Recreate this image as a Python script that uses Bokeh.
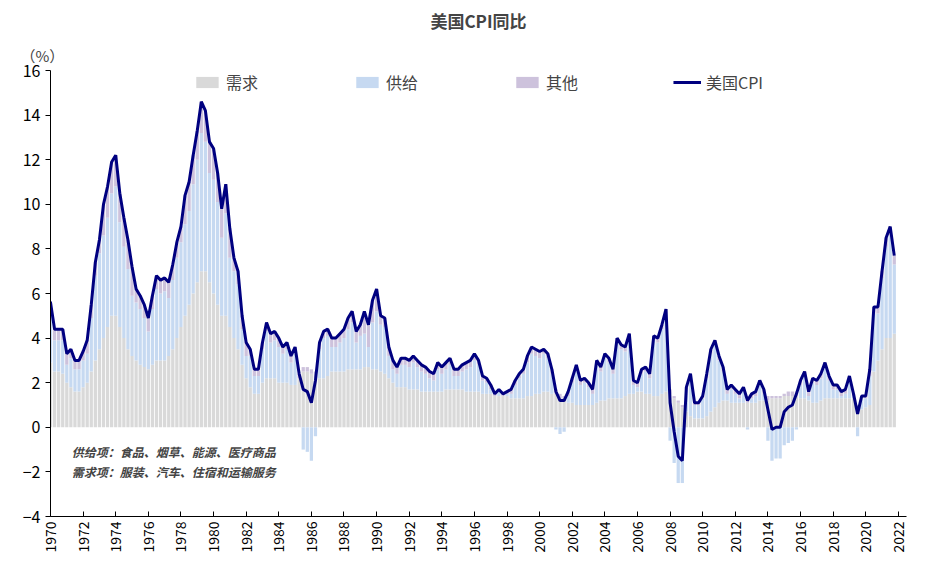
import math
from bokeh.plotting import figure
from bokeh.models import Range1d, FixedTicker, Label, Legend, LegendItem, Title
from bokeh.embed import file_html
from bokeh.resources import INLINE

start_year = 1970
cpi = [6.2,6.0,5.7,5.6, 4.4,4.4,4.4,3.3, 3.5,3.0,3.0,3.4, 3.9,5.5,7.4,8.4, 10.0,10.8,11.9,12.2,
       10.5,9.4,8.4,7.2, 6.2,5.9,5.5,4.9, 5.9,6.8,6.6,6.7, 6.5,7.3,8.3,9.0, 10.4,11.0,12.2,13.3,
       14.6,14.2,12.8,12.5, 11.4,9.8,10.9,8.9, 7.6,7.0,5.0,3.8, 3.5,2.6,2.6,3.8, 4.7,4.2,4.3,4.0,
       3.6,3.8,3.2,3.6, 2.4,1.7,1.6,1.1, 2.1,3.8,4.3,4.4, 4.0,4.0,4.2,4.4, 4.9,5.2,4.3,4.6,
       5.2,4.6,5.7,6.2, 5.0,4.9,3.6,3.0, 2.7,3.1,3.1,3.0, 3.2,3.0,2.8,2.7, 2.5,2.4,2.9,2.7,
       2.9,3.1,2.6,2.6, 2.8,2.9,3.0,3.3, 3.0,2.3,2.2,1.9, 1.5,1.7,1.5,1.6, 1.7,2.1,2.4,2.6,
       3.2,3.6,3.5,3.4, 3.5,3.3,2.6,1.6, 1.2,1.2,1.6,2.2, 2.8,2.1,2.2,2.0, 1.7,3.0,2.7,3.3,
       3.1,2.6,4.0,3.7, 3.6,4.2,2.1,2.0, 2.6,2.7,2.4,4.1, 4.0,4.6,5.3,1.1, -0.2,-1.3,-1.5,1.8,
       2.4,1.1,1.1,1.4, 2.4,3.5,3.9,3.2, 2.7,1.7,1.9,1.7, 1.5,1.8,1.2,1.5, 1.6,2.1,1.7,0.8,
       -0.1,0.0,0.0,0.7, 0.9,1.0,1.5,2.1, 2.5,1.6,2.2,2.1, 2.4,2.9,2.3,1.9, 1.9,1.6,1.7,2.3,
       1.5,0.6,1.4,1.4, 2.6,5.4,5.4,7.0, 8.5,9.0,7.7]
demand = [3.0,3.0,2.9,2.9, 2.5,2.5,2.4,2.0, 1.8,1.6,1.6,1.8, 2.0,2.5,3.0,3.5, 4.0,4.5,5.0,5.0,
          4.5,4.0,3.5,3.2, 3.0,2.8,2.7,2.6, 2.8,3.0,3.0,3.0, 3.2,3.5,4.0,4.5, 5.0,5.5,6.0,6.5,
          7.0,7.0,6.5,6.0, 5.5,5.0,5.0,4.5, 4.0,3.5,2.8,2.2, 1.8,1.5,1.5,2.0, 2.2,2.2,2.2,2.0,
          2.0,2.0,1.9,1.9, 2.2,2.5,2.5,2.4, 2.2,2.2,2.2,2.3, 2.5,2.5,2.5,2.5, 2.6,2.6,2.6,2.6,
          2.7,2.7,2.6,2.6, 2.5,2.4,2.2,2.0, 1.8,1.8,1.8,1.7, 1.7,1.7,1.6,1.6, 1.6,1.6,1.6,1.6,
          1.7,1.7,1.7,1.7, 1.7,1.6,1.6,1.6, 1.6,1.5,1.5,1.5, 1.4,1.4,1.4,1.4, 1.3,1.3,1.3,1.3,
          1.4,1.4,1.5,1.5, 1.6,1.6,1.5,1.5, 1.3,1.2,1.1,1.1, 1.0,1.0,1.0,1.0, 1.0,1.1,1.2,1.2,
          1.3,1.3,1.3,1.3, 1.4,1.5,1.5,1.6, 1.6,1.5,1.5,1.4, 1.4,1.5,1.6,1.5, 1.3,1.1,0.9,0.7,
          0.5,0.4,0.4,0.4, 0.5,0.7,0.9,1.1, 1.2,1.2,1.1,1.1, 1.1,1.1,1.1,1.1, 1.1,1.2,1.2,1.2,
          1.3,1.3,1.3,1.4, 1.4,1.4,1.4,1.3, 1.3,1.2,1.1,1.1, 1.2,1.3,1.3,1.3, 1.3,1.3,1.3,1.3,
          1.3,0.9,0.8,0.9, 1.0,2.5,3.0,3.5, 4.0,4.0,4.2]
supply = [2.7,2.5,2.3,2.2, 1.4,1.4,1.5,0.8, 1.3,1.0,1.0,1.2, 1.3,2.4,3.8,4.3, 4.6,4.9,5.5,5.8,
          4.7,4.1,3.6,2.7, 2.6,2.5,2.2,1.7, 2.5,3.2,3.0,3.1, 2.6,3.1,3.6,3.8, 4.1,4.2,4.9,5.5,
          6.2,5.8,4.9,5.1, 4.6,3.5,4.6,3.1, 3.0,2.9,1.6,1.0, 1.4,0.8,0.8,1.5, 2.1,1.6,1.7,1.6,
          1.3,1.5,1.0,1.4, 0.0,-1.0,-1.1,-1.5, -0.4,1.3,1.8,1.8, 1.1,1.1,1.3,1.5, 1.8,2.1,1.2,1.5,
          1.5,0.9,2.1,2.6, 2.1,2.1,1.0,0.6, 0.6,1.0,1.0,1.0, 1.2,1.0,0.9,0.8, 0.6,0.5,1.0,0.8,
          0.9,1.1,0.6,0.6, 0.8,1.0,1.1,1.4, 1.2,0.6,0.5,0.2, 0.0,0.2,0.0,0.1, 0.2,0.6,0.9,1.1,
          1.5,1.9,1.7,1.6, 1.7,1.5,0.9,-0.1, -0.3,-0.2,0.3,0.9, 1.6,0.9,1.0,0.8, 0.5,1.7,1.3,1.9,
          1.6,1.1,2.5,2.2, 2.0,2.5,0.4,0.2, 0.8,1.0,0.7,2.5, 2.4,2.9,3.5,-0.6, -1.6,-2.5,-2.5,1.0,
          1.8,0.6,0.6,0.9, 1.7,2.6,2.8,1.9, 1.3,0.3,0.6,0.4, 0.2,0.5,-0.1,0.2, 0.3,0.7,0.3,-0.6,
          -1.5,-1.4,-1.4,-0.8, -0.7,-0.6,-0.1,0.6, 1.0,0.2,0.9,0.8, 1.0,1.4,0.8,0.4, 0.4,0.1,0.2,0.8,
          0.1,-0.4,0.5,0.4, 1.3,2.6,2.1,3.2, 4.1,4.6,3.1]
other_by_year = [0.5,0.5,0.4,0.6,1.4,1.3,0.6,0.6,0.7,1.3,1.4,1.3,0.6,0.3,0.4,0.3,0.2,0.3,0.4,0.5,
                 1.0,0.4,0.3,0.3,0.3,0.3,0.3,0.2,0.1,0.2,0.3,0.2,0.2,0.2,0.2,0.2,0.2,0.2,0.2,0.1,
                 0.1,0.2,0.2,0.2,0.2,0.1,0.2,0.2,0.2,0.2,0.1,0.3,0.4]
tick_years = list(range(1970, 2023, 2))
y_ticks = list(range(-4, 17, 2))

n = len(cpi)
other = [other_by_year[i // 4] for i in range(n)]
x = [start_year + i * 0.25 - 0.75 for i in range(n)]

segs = {k: ([], []) for k in ("d", "s", "o")}
for i in range(n):
    pos, neg = 0.0, 0.0
    for k, v in (("d", demand[i]), ("s", supply[i]), ("o", other[i])):
        if v >= 0:
            segs[k][0].append(pos); segs[k][1].append(pos + v); pos += v
        else:
            segs[k][0].append(neg); segs[k][1].append(neg + v); neg += v

FONT = "Noto Sans CJK SC"
p = figure(width=916, height=555, output_backend="svg", toolbar_location=None,
           x_range=Range1d(1970, 2022.5), y_range=Range1d(-4, 16),
           min_border_left=50, min_border_right=10, min_border_top=0, min_border_bottom=5)
p.title.text = "美国CPI同比"
p.title.align = "center"
p.title.text_font = FONT
p.title.text_font_size = "17px"
p.title.text_font_style = "bold"
p.title.offset = 0
p.add_layout(Title(text="（%）", align="left", text_font=FONT, text_font_size="15px",
                   text_font_style="normal", offset=-30), "above")

colors = {"d": "#d9d9d9", "s": "#c6d9f1", "o": "#cdc2dc"}
names = {"d": "需求", "s": "供给", "o": "其他"}
items = []
for k in ("d", "s", "o"):
    r = p.vbar(x=x, bottom=segs[k][0], top=segs[k][1], width=0.2, color=colors[k], line_color=None)
    items.append(LegendItem(label=names[k], renderers=[r]))
lr = p.line(x, cpi, line_color="#000080", line_width=3)
items.append(LegendItem(label="美国CPI", renderers=[lr]))

leg = Legend(items=items, orientation="horizontal", location="top_center", spacing=95,
             label_text_font=FONT, label_text_font_size="16px", border_line_color=None,
             background_fill_alpha=0, glyph_width=28, glyph_height=14, margin=0, padding=0)
p.add_layout(leg)

p.grid.visible = False
p.outline_line_color = None
p.xaxis.ticker = FixedTicker(ticks=tick_years)
p.xaxis.major_label_orientation = math.pi / 2
p.xaxis.major_label_text_font = FONT
p.xaxis.major_label_text_font_size = "14px"
p.xaxis.major_label_text_color = "black"
p.xaxis.major_tick_in = 5
p.xaxis.major_tick_out = 0
p.xaxis.minor_tick_line_color = None
p.xaxis.axis_line_color = "black"
p.yaxis.ticker = FixedTicker(ticks=y_ticks)
p.yaxis.major_label_text_font = FONT
p.yaxis.major_label_text_font_size = "16px"
p.yaxis.major_label_text_color = "black"
p.yaxis.major_tick_in = 0
p.yaxis.major_tick_out = 5
p.yaxis.minor_tick_line_color = None
p.yaxis.axis_line_color = "black"

for t in y_ticks:
    if t < 0:
        p.add_layout(Label(x=1970, y=t, x_offset=-8, text=str(t), text_align="right",
                           text_baseline="middle", text_color="red", text_font=FONT,
                           text_font_size="16px", background_fill_color="white"))

p.add_layout(Label(x=1971.3, y=-1.45, text="供给项：食品、烟草、能源、医疗商品", text_font=FONT,
                   text_font_size="12px", text_font_style="bold italic"))
p.add_layout(Label(x=1971.3, y=-2.35, text="需求项：服装、汽车、住宿和运输服务", text_font=FONT,
                   text_font_size="12px", text_font_style="bold italic"))

open("out.html", "w").write(file_html(p, INLINE))
